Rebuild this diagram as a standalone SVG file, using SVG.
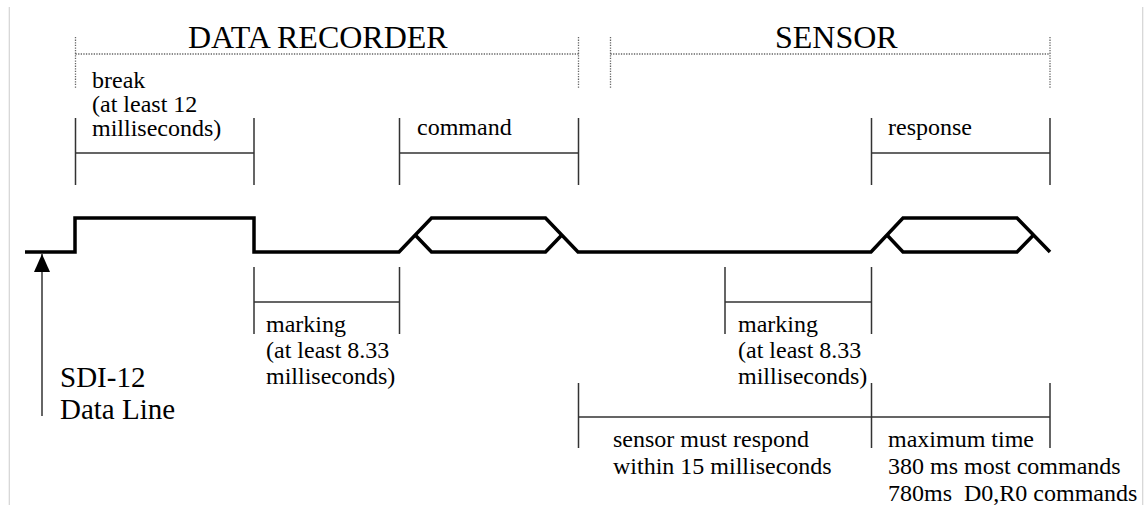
<svg xmlns="http://www.w3.org/2000/svg" width="1144" height="507" viewBox="0 0 1144 507" font-family="'Liberation Serif', 'Times New Roman', 'DejaVu Serif', serif">
<style>
text{font-family:'Liberation Serif','Times New Roman','DejaVu Serif',serif;fill:#000}
.title{font-size:32px}
.lbl{font-size:24px}
.big{font-size:29px}
.dot{stroke:#666;stroke-width:1.3;stroke-dasharray:1.3 1.3;fill:none}
.br{stroke:#333;stroke-width:1.5;fill:none}
.sig{stroke:#000;stroke-width:3.5;fill:none;stroke-linejoin:miter}
.edge{stroke:#d4d4d4;stroke-width:1.2}
</style>
<defs>
<marker id="ah" markerWidth="18" markerHeight="16" refX="18" refY="8" orient="auto" markerUnits="userSpaceOnUse" viewBox="0 0 18 16">
<path d="M0,0 L18,8 L0,16 Z" fill="#000"/>
</marker>
</defs>
<rect width="1144" height="507" fill="#fff"/>
<line class="edge" x1="9.3" y1="7" x2="9.3" y2="505"/>
<line class="edge" x1="1142.7" y1="7" x2="1142.7" y2="505"/>

<g id="data-recorder">
<text class="title" x="188" y="48">DATA RECORDER</text>
<path class="dot" d="M75.5,37 V88 M578.5,37 V88 M75.5,54 H578.5"/>
</g>
<g id="sensor">
<text class="title" x="775" y="48">SENSOR</text>
<path class="dot" d="M610.5,37 V88 M1050,37 V88 M610.5,54 H1050"/>
</g>

<g id="break">
<path class="br" d="M75.5,118 V185 M254,118 V185 M75.5,153 H254"/>
<text class="lbl" x="92" y="88">break</text>
<text class="lbl" x="92" y="112">(at least 12</text>
<text class="lbl" x="92" y="136">milliseconds)</text>
</g>
<g id="command">
<path class="br" d="M399.5,118 V185 M578.5,118 V185 M399.5,153 H578.5"/>
<text class="lbl" x="417" y="135">command</text>
</g>
<g id="response">
<path class="br" d="M871.5,118 V185 M1050,118 V185 M871.5,153 H1050"/>
<text class="lbl" x="888" y="135">response</text>
</g>

<g id="signal">
<path class="sig" d="M25,252 H75 V218 H254 V252 H399 L431.5,218 H545.5 L578,252 H871 L903,218 H1017 L1050,252"/>
<path class="sig" d="M415.2,235 L431.5,252 H545.5 L561.8,235"/>
<path class="sig" d="M887,235 L903,252 H1017 L1033.5,235"/>
</g>

<g id="data-line">
<line x1="42" y1="416" x2="42" y2="254" stroke="#333" stroke-width="1.5" marker-end="url(#ah)"/>
<text class="big" x="60" y="387">SDI-12</text>
<text class="big" x="60" y="419">Data Line</text>
</g>

<g id="marking-1">
<path class="br" d="M254,267 V334 M399.5,267 V334 M254,302 H399.5"/>
<text class="lbl" x="266" y="332">marking</text>
<text class="lbl" x="266" y="358">(at least 8.33</text>
<text class="lbl" x="266" y="384">milliseconds)</text>
</g>
<g id="marking-2">
<path class="br" d="M725,267 V334 M871.5,267 V334 M725,302 H871.5"/>
<text class="lbl" x="738" y="332">marking</text>
<text class="lbl" x="738" y="358">(at least 8.33</text>
<text class="lbl" x="738" y="384">milliseconds)</text>
</g>

<g id="respond-window">
<path class="br" d="M578.5,383 V448 M871.5,383 V448 M578.5,417 H871.5"/>
<text class="lbl" x="613" y="447">sensor must respond</text>
<text class="lbl" x="613" y="474">within 15 milliseconds</text>
</g>
<g id="max-time">
<path class="br" d="M1050,383 V448 M871.5,417 H1050"/>
<text class="lbl" x="888" y="447">maximum time</text>
<text class="lbl" x="888" y="474">380 ms most commands</text>
<text class="lbl" x="888" y="501" xml:space="preserve">780ms  D0,R0 commands</text>
</g>
</svg>
